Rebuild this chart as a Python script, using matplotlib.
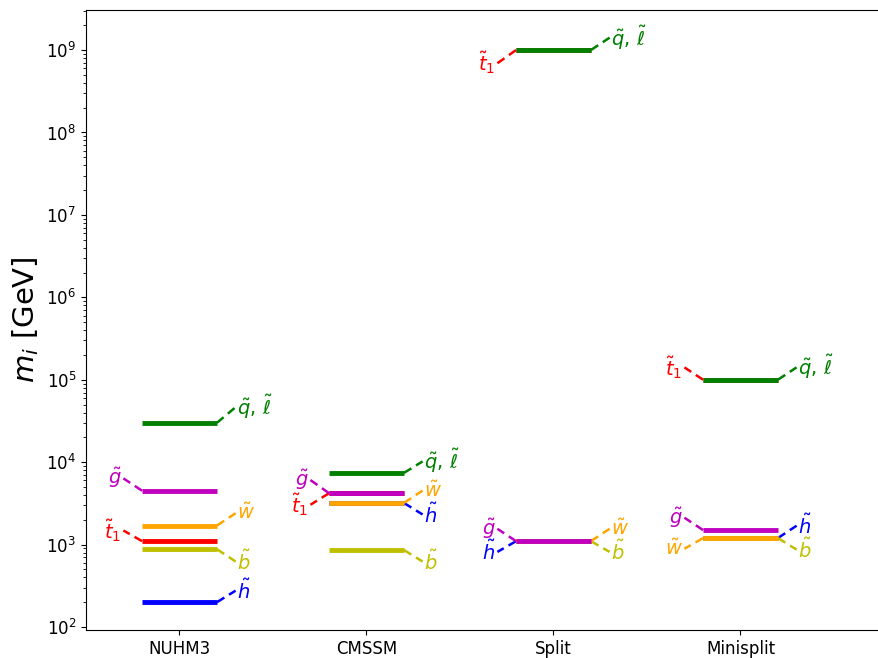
import matplotlib.pyplot as plt

models = ["NUHM3", "CMSSM", "Split", "Minisplit"]

# particle order also sets draw order (later on top)
particles = ["t1", "ql", "h", "b", "w", "g"]
labels = {
    "t1": r"$\tilde{t}_1$",
    "ql": r"$\tilde{q},\,\tilde{\ell}$",
    "h": r"$\tilde{h}$",
    "b": r"$\tilde{b}$",
    "w": r"$\tilde{w}$",
    "g": r"$\tilde{g}$",
}
colors = {"t1": "r", "ql": "g", "h": "b", "b": "y", "w": "orange", "g": "m"}

# masses in GeV
nuhm3 = {"t1": 1.1e3, "ql": 3.0e4, "h": 2.0e2, "b": 8.8e2, "w": 1.7e3, "g": 4.5e3}
cmssm = {"t1": 4.2e3, "ql": 7.4e3, "h": 3.2e3, "b": 8.6e2, "w": 3.2e3, "g": 4.2e3}
split = {"t1": 1.0e9, "ql": 1.0e9, "h": 1.1e3, "b": 1.1e3, "w": 1.1e3, "g": 1.1e3}
minisplit = {"t1": 1.0e5, "ql": 1.0e5, "h": 1.2e3, "b": 1.2e3, "w": 1.2e3, "g": 1.5e3}
masses = [nuhm3, cmssm, split, minisplit]

# label side (-1 left, +1 right) and vertical offset of label in dex
nuhm3_lab = {"t1": (-1, 0.13), "ql": (1, 0.19), "h": (1, 0.14), "b": (1, -0.15), "w": (1, 0.15), "g": (-1, 0.15)}
cmssm_lab = {"t1": (-1, -0.14), "ql": (1, 0.14), "h": (1, -0.14), "b": (1, -0.14), "w": (1, 0.15), "g": (-1, 0.16)}
split_lab = {"t1": (-1, -0.16), "ql": (1, 0.15), "h": (-1, -0.13), "b": (1, -0.13), "w": (1, 0.15), "g": (-1, 0.15)}
minisplit_lab = {"t1": (-1, 0.15), "ql": (1, 0.15), "h": (1, 0.15), "b": (1, -0.14), "w": (-1, -0.13), "g": (-1, 0.15)}
label_pos = [nuhm3_lab, cmssm_lab, split_lab, minisplit_lab]

fig = plt.figure(figsize=(8.79, 6.58), dpi=100)
ax = fig.add_axes([86 / 879, 1 - 630 / 658, (882 - 86) / 879, (630 - 10) / 658])

for i, (mass, lab) in enumerate(zip(masses, label_pos)):
    x = i + 1
    for p in particles:
        m = mass[p]
        ax.plot([x - 0.2, x + 0.2], [m, m], color=colors[p], lw=3.5, solid_capstyle="butt")
        side, off = lab[p]
        m2 = m * 10 ** off
        x0 = x + 0.2 * side
        x1 = x + 0.3 * side
        ax.plot([x0, x1], [m, m2], color=colors[p], lw=1.8, ls=(0, (3.5, 2.2)))
        ax.text(x1 + 0.01 * side, m2, labels[p], color=colors[p], fontsize=14,
                ha="left" if side > 0 else "right", va="center")

ax.set_yscale("log")
ax.set_ylim(92, 3.06e9)
ax.set_xlim(0.5, 0.5 + (882 - 86) / 187)
ax.set_xticks(range(1, len(models) + 1))
ax.set_xticklabels(models)
ax.tick_params(labelsize=12)
ax.set_ylabel(r"$m_i$ [GeV]", fontsize=21)

fig.savefig("out.png", dpi=100)
